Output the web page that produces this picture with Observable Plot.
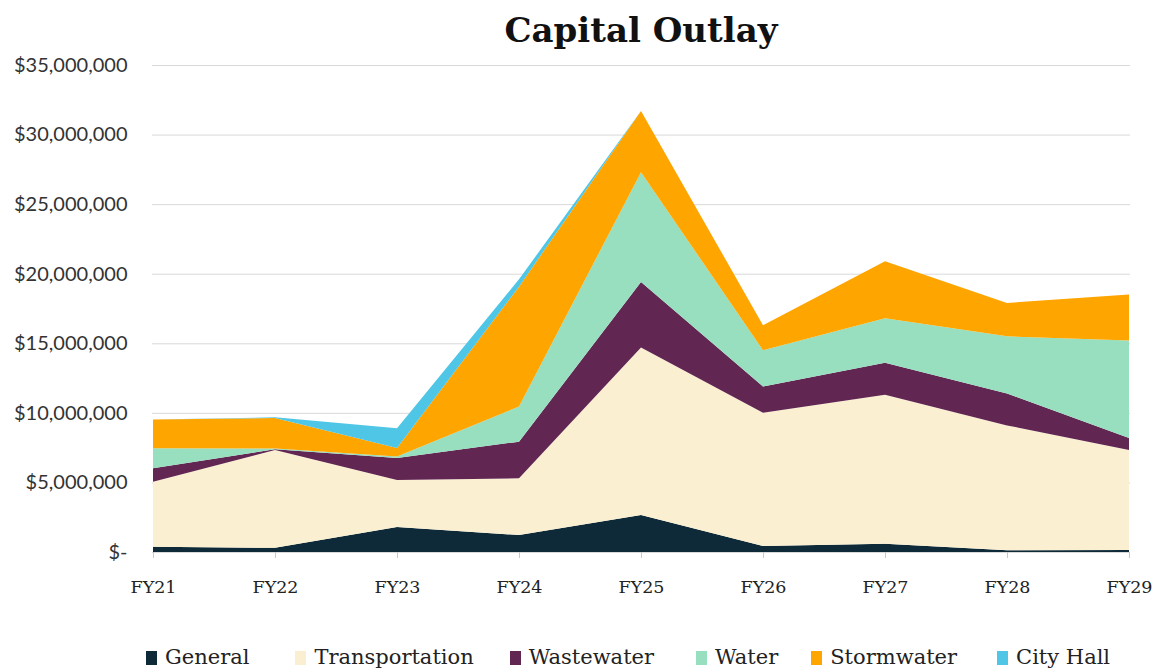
<!DOCTYPE html>
<html>
<head>
<meta charset="utf-8">
<script src="https://cdn.jsdelivr.net/npm/d3@7"></script>
<script src="https://cdn.jsdelivr.net/npm/@observablehq/plot@0.6"></script>
<style>
  html, body { margin: 0; padding: 0; background: #fff; }
  #wrap { width: 1157px; height: 671px; position: relative; overflow: hidden; }
  #title { box-sizing: border-box; height: 50px; margin-left: 152px; width: 978px; text-align: center;
           font-family: "DejaVu Serif", serif; font-weight: bold; font-size: 34px; line-height: 1; padding-top: 13px; color: #111; }
  #chart { height: 560px; }
  #legend { display: flex; justify-content: flex-start; align-items: center; padding-left: 146px; padding-top: 37px;
            font-family: "DejaVu Serif", serif; font-size: 21px; color: #222; line-height: 1; }
  .item { display: flex; align-items: center; }
  .sw { width: 11px; height: 14px; margin-right: 8px; }
</style>
</head>
<body>
<div id="wrap">
  <div id="title">Capital Outlay</div>
  <div id="chart"></div>
  <div id="legend"></div>
</div>
<script>
const years = ["FY21","FY22","FY23","FY24","FY25","FY26","FY27","FY28","FY29"];
const series = ["General","Transportation","Wastewater","Water","Stormwater","City Hall"];
const colors = ["#0e2a38","#faf0d1","#622653","#98dfbf","#ffa500","#4fc6e6"];

const general        = [380000, 300000, 1800000, 1220000,  2660000,  430000,   600000,  120000,  150000];
const transportation = [4670000, 7030000, 3380000, 4080000, 12040000, 9570000, 10700000, 8980000, 7180000];
const wastewater     = [970000,   50000, 1580000, 2630000,  4700000, 1900000,  2300000, 2300000,  870000];
const water          = [1430000,  50000,  100000, 2520000,  7900000, 2600000,  3200000, 4100000, 7000000];
const stormwater     = [2080000, 2200000,  620000, 8620000,  4400000, 1800000,  4100000, 2400000, 3300000];
const cityHall       = [0,         50000, 1420000,  530000,        0,       0,        0,       0,       0];

const yTicks = [0, 5000000, 10000000, 15000000, 20000000, 25000000, 30000000, 35000000];

const valuesBySeries = [general, transportation, wastewater, water, stormwater, cityHall];
const rows = [];
series.forEach((s, si) => {
  years.forEach((yr, i) => rows.push({year: yr, series: s, value: valuesBySeries[si][i]}));
});

const fmt = d => d === 0 ? "$-" : "$" + d3.format(",")(d);

const chart = Plot.plot({
  width: 1157,
  height: 560,
  marginLeft: 152,
  marginRight: 27,
  marginTop: 15,
  marginBottom: 58,
  style: {background: "white", overflow: "visible"},
  x: {type: "point", domain: years, padding: 0, label: null},
  y: {domain: [0, 35000000], label: null},
  color: {domain: series, range: colors},
  marks: [
    Plot.gridY(yTicks, {stroke: "#d9d9d9", strokeOpacity: 1, strokeWidth: 1}),
    Plot.areaY(rows, {x: "year", y: "value", fill: "series", z: "series", order: series, curve: "linear"}),
    Plot.axisY(yTicks, {tickSize: 0, tickPadding: 25, tickFormat: fmt, fontSize: 20, fontFamily: "Lato, sans-serif", fill: "#333", label: null}),
    Plot.axisX({tickSize: 6, tickPadding: 22, stroke: "#c8c8c8", fill: "#222", fontSize: 17.5, fontFamily: "DejaVu Serif, serif", label: null})
  ]
});
document.getElementById("chart").appendChild(chart);

const legend = document.getElementById("legend");
const gaps = [0, 46, 36, 42, 33, 40];
series.forEach((s, i) => {
  const it = document.createElement("div");
  it.className = "item";
  it.style.marginLeft = gaps[i] + "px";
  const sw = document.createElement("span");
  sw.className = "sw";
  sw.style.background = colors[i];
  const t = document.createElement("span");
  t.textContent = s;
  it.appendChild(sw); it.appendChild(t);
  legend.appendChild(it);
});
</script>
</body>
</html>
